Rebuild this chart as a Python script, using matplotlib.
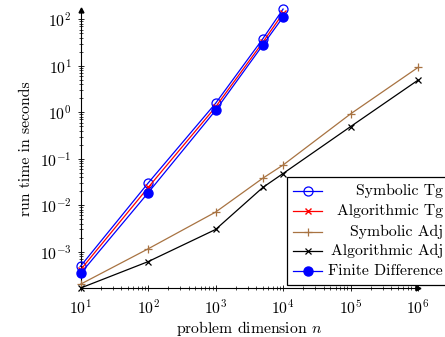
import matplotlib
matplotlib.use("Agg")
import matplotlib.pyplot as plt
from matplotlib.lines import Line2D
from matplotlib.patches import Rectangle
from matplotlib.ticker import LogLocator, NullFormatter

plt.rcParams['font.family'] = 'serif'
plt.rcParams['font.serif'] = ['cmr10', 'DejaVu Serif']
plt.rcParams['mathtext.fontset'] = 'cm'
plt.rcParams['axes.formatter.use_mathtext'] = True
plt.rcParams['axes.unicode_minus'] = False

# problem sizes
n_tg = [10, 100, 1000, 5000, 10000]
n_adj = [10, 100, 1000, 5000, 10000, 100000, 1000000]

# run times in seconds
sym_tg = [4.9e-4, 0.030, 1.56, 38, 166]
alg_tg = [4.1e-4, 0.024, 1.30, 32, 135]
sym_adj = [2.0e-4, 1.15e-3, 7.1e-3, 0.038, 0.073, 0.92, 9.2]
alg_adj = [1.65e-4, 6.1e-4, 3.0e-3, 0.024, 0.048, 0.49, 4.9]
fin_diff = [3.4e-4, 0.0185, 1.10, 27.8, 112]

labels = ["Symbolic Tg", "Algorithmic Tg", "Symbolic Adj", "Algorithmic Adj", "Finite Difference"]
x_major = [1e1, 1e2, 1e3, 1e4, 1e5, 1e6]
y_major = [1e-3, 1e-2, 1e-1, 1e0, 1e1, 1e2]

brown = (0.66, 0.45, 0.26)
styles = [
    dict(color='blue', marker='o', mfc='none', ms=6.5, mew=0.9),
    dict(color='red', marker='x', ms=3.8, mew=1.0),
    dict(color=brown, marker='+', ms=5.5, mew=0.9),
    dict(color='black', marker='x', ms=3.8, mew=0.9),
    dict(color='blue', marker='o', ms=6.5),
]

fs = 11.3

fig = plt.figure(figsize=(4.45, 3.37), dpi=100)
ax = fig.add_axes([80.7/445, 1 - 288.3/337, (418 - 80.7)/445, (288.3 - 10)/337])

series = [(n_tg, sym_tg), (n_tg, alg_tg), (n_adj, sym_adj), (n_adj, alg_adj), (n_tg, fin_diff)]
for (xs, ys), st in zip(series, styles):
    ax.plot(xs, ys, lw=0.9, clip_on=False, zorder=3, **st)

ax.set_xscale('log')
ax.set_yscale('log')
ax.set_xticks(x_major)
ax.set_yticks(y_major)
ax.xaxis.set_minor_locator(LogLocator(base=10, subs=range(2, 10), numticks=100))
ax.yaxis.set_minor_locator(LogLocator(base=10, subs=range(2, 10), numticks=100))
ax.xaxis.set_minor_formatter(NullFormatter())
ax.yaxis.set_minor_formatter(NullFormatter())
ax.set_xlim(10, 1e6)
ax.set_ylim(10**-3.789, 10**2.2)

ax.spines['top'].set_visible(False)
ax.spines['right'].set_visible(False)
ax.spines['left'].set_linewidth(0.8)
ax.spines['bottom'].set_linewidth(0.8)
ax.tick_params(which='major', direction='inout', length=5, width=0.6, labelsize=fs, pad=4)
ax.tick_params(axis='x', which='major', pad=5)
ax.tick_params(which='minor', direction='inout', length=3, width=0.5)

# axis arrows
ax.plot(1, 0, '>', color='black', ms=3.5, transform=ax.transAxes, clip_on=False)
ax.plot(0, 1, '^', color='black', ms=3.5, transform=ax.transAxes, clip_on=False)

ax.set_xlabel(r'problem dimension $n$', fontsize=fs, labelpad=1)
ax.set_ylabel('run time in seconds', fontsize=fs, labelpad=5)

# legend box, pgfplots style with right aligned text
def fx(x):
    return x / 445

def fy(y):
    return 1 - y / 337

fig.patches.append(Rectangle((fx(287), fy(285)), fx(200), fy(177) - fy(285),
                             transform=fig.transFigure, facecolor='white',
                             edgecolor='black', lw=0.9, zorder=10))
rows = [190.7, 211.3, 232.3, 251.3, 270.7]
for y, lab, st in zip(rows, labels, styles):
    fig.add_artist(Line2D([fx(293), fx(322)], [fy(y), fy(y)], lw=0.9,
                          color=st['color'], transform=fig.transFigure, zorder=11))
    mst = {k: v for k, v in st.items() if k != 'color'}
    fig.add_artist(Line2D([fx(307.5)], [fy(y)], ls='none', color=st['color'],
                          transform=fig.transFigure, zorder=12, **mst))
    fig.text(fx(443), fy(y), lab, ha='right', va='center', fontsize=fs, zorder=12)

fig.savefig('out.png', dpi=100)
